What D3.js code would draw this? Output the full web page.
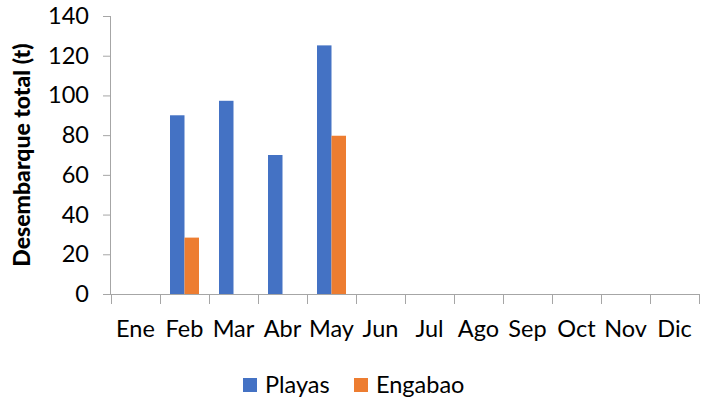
<!DOCTYPE html>
<html><head><meta charset="utf-8">
<script src="https://cdn.jsdelivr.net/npm/d3@7"></script>
<style>body{margin:0;background:#fff}svg{display:block}text{font-family:Lato,sans-serif}</style>
</head><body><svg id="c" width="702" height="400"></svg>
<script>
const months = ["Ene","Feb","Mar","Abr","May","Jun","Jul","Ago","Sep","Oct","Nov","Dic"];
const seriesNames = ["Playas","Engabao"];
const playas = [null,90,97.3,70,125.2,null,null,null,null,null,null,null];
const engabao = [null,28.4,null,null,79.7,null,null,null,null,null,null,null];
const yTicks = [0,20,40,60,80,100,120,140];
const colors = ["#4472C4","#ED7D31"];

const svg = d3.select("#c");
const L=111, R=699, T=16, B=294;
const x0 = d3.scaleBand().domain(months).range([L,R]).padding(0);
const x1 = d3.scaleBand().domain(seriesNames).range([0,x0.bandwidth()]).paddingInner(0).paddingOuter(0.69);
const y = d3.scaleLinear().domain([0,140]).range([B,T]);
const axisColor = "#a6a6a6";

// y axis
const ya = svg.append("g").attr("transform",`translate(${L},0)`)
  .call(d3.axisLeft(y).tickValues(yTicks).tickSize(8).tickPadding(14));
ya.select(".domain").attr("stroke",axisColor).attr("d",`M-0.5,${T}V${B}`);
ya.selectAll(".tick line").attr("stroke",axisColor);
ya.selectAll(".tick text").attr("font-size","23.5px").attr("fill","#000").attr("font-family","Lato");

// bars
const data = [playas, engabao];
data.forEach((vals,si)=>{
  svg.append("g").selectAll("rect").data(months.map((m,i)=>({m,v:vals[i]})).filter(d=>d.v!=null))
    .enter().append("rect")
    .attr("x",d=>x0(d.m)+x1(seriesNames[si]))
    .attr("width",x1.bandwidth())
    .attr("y",d=>y(d.v)).attr("height",d=>y(0)-y(d.v))
    .attr("fill",colors[si]);
});

// x axis
const xa = svg.append("g").attr("transform",`translate(0,${B})`);
xa.append("line").attr("x1",L-8).attr("x2",R).attr("y1",0.5).attr("y2",0.5).attr("stroke",axisColor);
const edges = months.map(m=>x0(m)).concat([R]);
xa.selectAll(".tk").data(edges).enter().append("line")
  .attr("x1",d=>Math.round(d)+0.5).attr("x2",d=>Math.round(d)+0.5).attr("y1",0).attr("y2",10).attr("stroke",axisColor);
xa.selectAll(".lb").data(months).enter().append("text")
  .attr("x",d=>x0(d)+x0.bandwidth()/2).attr("y",43)
  .attr("text-anchor","middle").attr("font-size","23.5px").attr("fill","#000").text(d=>d);

// y title
svg.append("text").attr("transform",`translate(30,${(T+B)/2}) rotate(-90)`)
  .attr("text-anchor","middle").attr("font-size","23px").attr("font-weight","900").attr("fill","#000")
  .text("Desembarque total (t)");

// legend
const leg = [{n:"Playas",x:243},{n:"Engabao",x:354}];
leg.forEach((d,i)=>{
  svg.append("rect").attr("x",d.x).attr("y",378).attr("width",14).attr("height",14).attr("fill",colors[i]);
  svg.append("text").attr("x",d.x+22).attr("y",393).attr("font-size","23.5px").attr("fill","#000").text(d.n);
});
</script></body></html>
